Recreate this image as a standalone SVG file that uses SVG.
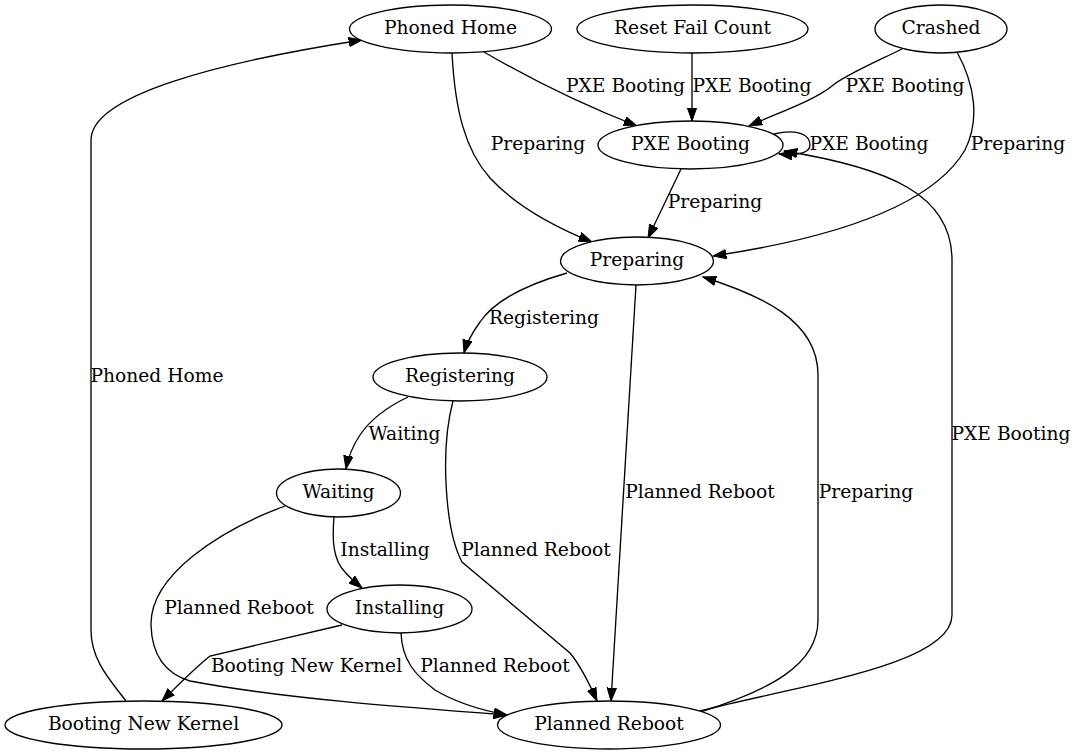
<svg xmlns="http://www.w3.org/2000/svg" width="1079" height="755" viewBox="0 0 1079 755">
<style>
.n ellipse{fill:#fff;stroke:#000;stroke-width:1.33}
text{font-family:"DejaVu Serif","Liberation Serif",serif;font-size:18.67px;fill:#000;text-anchor:middle}
#edges path{fill:none;stroke:#000;stroke-width:1.33;marker-end:url(#ah)}
</style>
<defs>
<marker id="ah" viewBox="0 0 14 10" refX="13.3" refY="5" markerWidth="14" markerHeight="10" markerUnits="userSpaceOnUse" orient="auto">
<path d="M0,0.33 L13.3,5 L0,9.67 z" fill="#000" stroke="#000" stroke-width="1"/>
</marker>
</defs>
<rect width="1079" height="755" fill="#fff"/>
<g id="edges">
<path d="M484,52 C520,73 575,102 637,126"/>
<path d="M692,53 L692,121"/>
<path d="M902,49 C880,60 845,75 832,86 C815,100 780,112 749,126"/>
<path d="M774,134 C800,128 810,136 810,145 C810,152 800,156 779,154"/>
<path d="M452,53 C455,110 465,150 490,178 C515,205 550,225 592,242"/>
<path d="M957,52 C975,85 980,120 965,150 C930,210 820,240 713,256"/>
<path d="M681,169 L648,238"/>
<path d="M567,273 C525,285 495,300 480,322 C472,333 467,342 464,353"/>
<path d="M636,285 L611,701"/>
<path d="M700,712 C770,690 818,665 818,620 L818,375 C818,320 760,295 703,277"/>
<path d="M700,711 C800,685 952,665 952,615 L952,260 C952,195 890,168 784,151"/>
<path d="M408,397 C385,408 370,420 360,435 C352,447 348,458 346,469"/>
<path d="M453,401 C440,450 445,530 462,562 L570,653 C580,665 590,685 597,701"/>
<path d="M334,517 C332,540 333,560 345,572 C350,578 356,583 362,588"/>
<path d="M285,506 C220,530 150,575 151,625 C152,660 170,675 190,681 C280,698 400,707 507,715"/>
<path d="M342,625 L210,656 C195,668 178,685 162,701"/>
<path d="M401,633 C402,660 415,675 435,690 C455,702 480,710 507,715"/>
<path d="M126,701 C110,680 91,660 91,630 L91,140 C91,95 220,62 362,40"/>
<text x="625.5" y="92">PXE Booting</text>
<text x="752" y="92">PXE Booting</text>
<text x="905" y="92">PXE Booting</text>
<text x="869" y="150">PXE Booting</text>
<text x="538" y="150">Preparing</text>
<text x="1018" y="150">Preparing</text>
<text x="715" y="208">Preparing</text>
<text x="544" y="324">Registering</text>
<text x="700" y="498">Planned Reboot</text>
<text x="866" y="498">Preparing</text>
<text x="1011" y="440">PXE Booting</text>
<text x="404.5" y="440">Waiting</text>
<text x="536" y="556">Planned Reboot</text>
<text x="385" y="556">Installing</text>
<text x="239" y="614">Planned Reboot</text>
<text x="306.5" y="672">Booting New Kernel</text>
<text x="495" y="672">Planned Reboot</text>
<text x="157" y="382">Phoned Home</text>
</g>
<g id="phoned_home" class="n"><ellipse cx="450.5" cy="29" rx="101" ry="24"/><text x="450.5" y="34.3">Phoned Home</text></g>
<g id="reset_fail_count" class="n"><ellipse cx="692.5" cy="29" rx="115.5" ry="24"/><text x="692.5" y="34.3">Reset Fail Count</text></g>
<g id="crashed" class="n"><ellipse cx="941" cy="29" rx="66" ry="24"/><text x="941" y="34.3">Crashed</text></g>
<g id="pxe_booting" class="n"><ellipse cx="690.5" cy="145" rx="92.5" ry="24"/><text x="690.5" y="150.3">PXE Booting</text></g>
<g id="preparing" class="n"><ellipse cx="637" cy="261" rx="76.5" ry="24"/><text x="637" y="266.3">Preparing</text></g>
<g id="registering" class="n"><ellipse cx="460" cy="377" rx="87" ry="24"/><text x="460" y="382.3">Registering</text></g>
<g id="waiting" class="n"><ellipse cx="338.5" cy="493" rx="62" ry="24"/><text x="338.5" y="498.3">Waiting</text></g>
<g id="installing" class="n"><ellipse cx="399.5" cy="609" rx="72.5" ry="24"/><text x="399.5" y="614.3">Installing</text></g>
<g id="booting_new_kernel" class="n"><ellipse cx="143.5" cy="725" rx="138.5" ry="24"/><text x="143.5" y="730.3">Booting New Kernel</text></g>
<g id="planned_reboot" class="n"><ellipse cx="609" cy="725" rx="111.5" ry="24"/><text x="609" y="730.3">Planned Reboot</text></g>
</svg>
